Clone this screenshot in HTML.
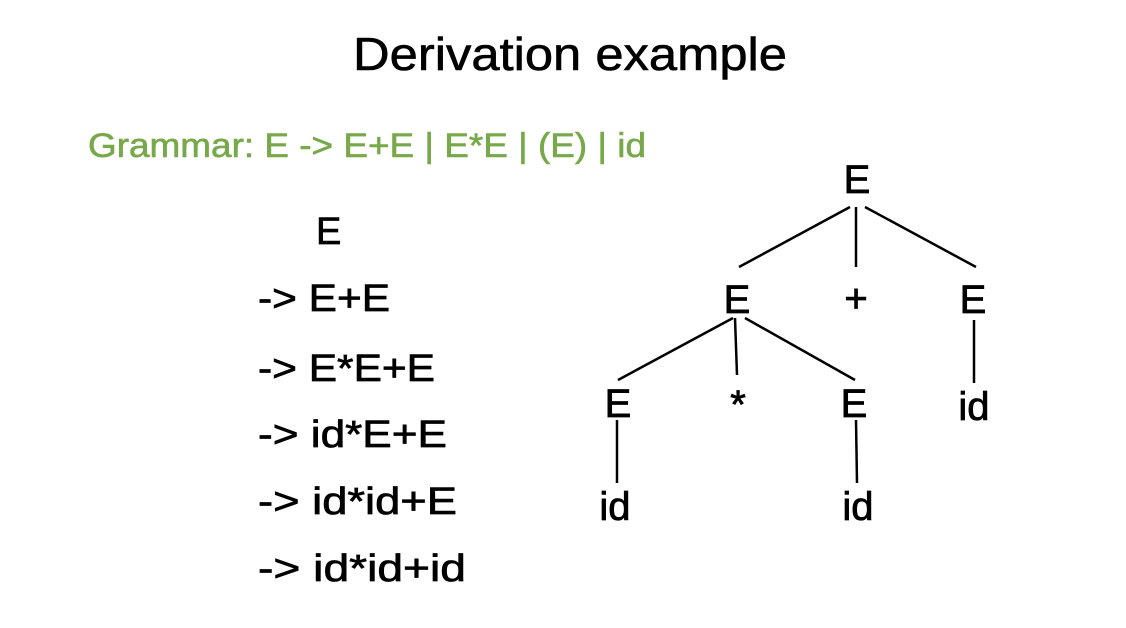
<!DOCTYPE html>
<html><head><meta charset="utf-8"><style>
html,body{margin:0;padding:0;background:#fff;}
svg{display:block;font-family:"Liberation Sans",sans-serif;}
</style></head><body>
<svg width="1126" height="628" viewBox="0 0 1126 628">
<text x="353" y="70" font-size="46" fill="#000" stroke="#000" stroke-width="0.6" textLength="434" lengthAdjust="spacingAndGlyphs">Derivation example</text>
<text x="88" y="157" font-size="34" fill="#77a94a" stroke="#77a94a" stroke-width="0.6" textLength="558" lengthAdjust="spacingAndGlyphs">Grammar: E -&gt; E+E | E*E | (E) | id</text>
<g font-size="38" fill="#000" stroke="#000" stroke-width="0.7" lengthAdjust="spacingAndGlyphs">
<text x="316" y="244">E</text>
<text x="258" y="311" textLength="132" lengthAdjust="spacingAndGlyphs">-&gt; E+E</text>
<text x="258" y="381" textLength="177" lengthAdjust="spacingAndGlyphs">-&gt; E*E+E</text>
<text x="258" y="447" textLength="189" lengthAdjust="spacingAndGlyphs">-&gt; id*E+E</text>
<text x="258" y="514" textLength="199" lengthAdjust="spacingAndGlyphs">-&gt; id*id+E</text>
<text x="258" y="581" textLength="208" lengthAdjust="spacingAndGlyphs">-&gt; id*id+id</text>
</g>
<g stroke="#000" stroke-width="2.5">
<line x1="850" y1="207" x2="739" y2="267"/>
<line x1="856" y1="207" x2="856" y2="267"/>
<line x1="865" y1="207" x2="976" y2="267"/>
<line x1="733" y1="318" x2="618" y2="380"/>
<line x1="735" y1="318" x2="737" y2="375"/>
<line x1="745" y1="318" x2="855" y2="380"/>
<line x1="974" y1="320" x2="974" y2="383"/>
<line x1="617" y1="420" x2="617" y2="483"/>
<line x1="856" y1="420" x2="857" y2="483"/>
</g>
<g font-size="40" fill="#000" stroke="#000" stroke-width="0.8" text-anchor="middle">
<text x="857" y="193">E</text>
<text x="737" y="313">E</text>
<text x="856" y="312">+</text>
<text x="973" y="313">E</text>
<text x="618" y="417">E</text>
<text x="738" y="418">*</text>
<text x="854" y="417">E</text>
<text x="974" y="420">id</text>
<text x="615" y="520">id</text>
<text x="858" y="520">id</text>
</g>
</svg>
</body></html>
